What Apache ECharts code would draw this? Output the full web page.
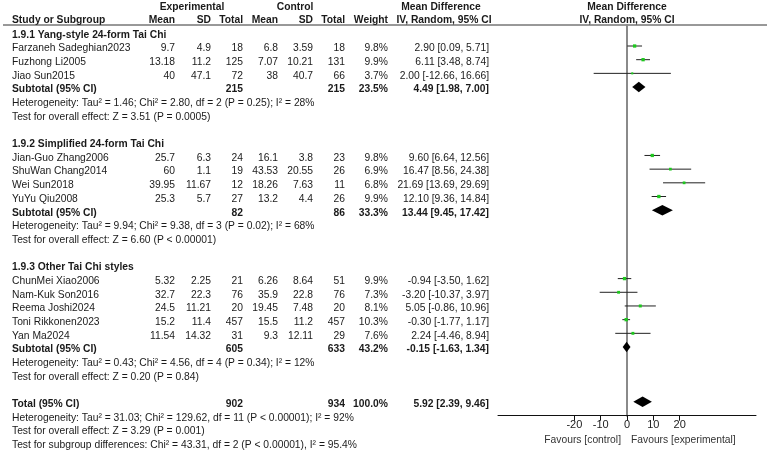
<!DOCTYPE html>
<html>
<head>
<meta charset="utf-8">
<script src="https://cdn.jsdelivr.net/npm/echarts@6/dist/echarts.min.js"></script>
<style>
  html, body { margin: 0; background: #fff; }
  #main { width: 767px; height: 453px; }
</style>
</head>
<body>
<div id="main"></div>
<script>
// ---- data ----
var groupNames = ['1.9.1 Yang-style 24-form Tai Chi', '1.9.2 Simplified 24-form Tai Chi', '1.9.3 Other Tai Chi styles'];
var studyNames = ['Farzaneh Sadeghian2023', 'Fuzhong Li2005', 'Jiao Sun2015',
  'Jian-Guo Zhang2006', 'ShuWan Chang2014', 'Wei Sun2018', 'YuYu Qiu2008',
  'ChunMei Xiao2006', 'Nam-Kuk Son2016', 'Reema Joshi2024', 'Toni Rikkonen2023', 'Yan Ma2024'];
var studyGroup = [0, 0, 0, 1, 1, 1, 1, 2, 2, 2, 2, 2];
var expMean = [9.7, 13.18, 40, 25.7, 60, 39.95, 25.3, 5.32, 32.7, 24.5, 15.2, 11.54];
var expSD = [4.9, 11.2, 47.1, 6.3, 1.1, 11.67, 5.7, 2.25, 22.3, 11.21, 11.4, 14.32];
var expN = [18, 125, 72, 24, 19, 12, 27, 21, 76, 20, 457, 31];
var ctlMean = [6.8, 7.07, 38, 16.1, 43.53, 18.26, 13.2, 6.26, 35.9, 19.45, 15.5, 9.3];
var ctlSD = [3.59, 10.21, 40.7, 3.8, 20.55, 7.63, 4.4, 8.64, 22.8, 7.48, 11.2, 12.11];
var ctlN = [18, 131, 66, 23, 26, 11, 26, 51, 76, 20, 457, 29];
var weight = [9.8, 9.9, 3.7, 9.8, 6.9, 6.8, 9.9, 9.9, 7.3, 8.1, 10.3, 7.6];
var md = [2.90, 6.11, 2.00, 9.60, 16.47, 21.69, 12.10, -0.94, -3.20, 5.05, -0.30, 2.24];
var mdLow = [0.09, 3.48, -12.66, 6.64, 8.56, 13.69, 9.36, -3.50, -10.37, -0.86, -1.77, -4.46];
var mdHigh = [5.71, 8.74, 16.66, 12.56, 24.38, 29.69, 14.84, 1.62, 3.97, 10.96, 1.17, 8.94];

var subExpN = [215, 82, 605];
var subCtlN = [215, 86, 633];
var subWeight = [23.5, 33.3, 43.2];
var subMd = [4.49, 13.44, -0.15];
var subLow = [1.98, 9.45, -1.63];
var subHigh = [7.00, 17.42, 1.34];
var subHet = [
  'Heterogeneity: Tau\u00b2 = 1.46; Chi\u00b2 = 2.80, df = 2 (P = 0.25); I\u00b2 = 28%',
  'Heterogeneity: Tau\u00b2 = 9.94; Chi\u00b2 = 9.38, df = 3 (P = 0.02); I\u00b2 = 68%',
  'Heterogeneity: Tau\u00b2 = 0.43; Chi\u00b2 = 4.56, df = 4 (P = 0.34); I\u00b2 = 12%'
];
var subTest = [
  'Test for overall effect: Z = 3.51 (P = 0.0005)',
  'Test for overall effect: Z = 6.60 (P < 0.00001)',
  'Test for overall effect: Z = 0.20 (P = 0.84)'
];

var totalExpN = 902, totalCtlN = 934, totalWeight = 100.0;
var totalMd = 5.92, totalLow = 2.39, totalHigh = 9.46;
var totalHet = 'Heterogeneity: Tau\u00b2 = 31.03; Chi\u00b2 = 129.62, df = 11 (P < 0.00001); I\u00b2 = 92%';
var totalTest = 'Test for overall effect: Z = 3.29 (P = 0.001)';
var subgroupTest = 'Test for subgroup differences: Chi\u00b2 = 43.31, df = 2 (P < 0.00001), I\u00b2 = 95.4%';

var xTicks = [-20, -10, 0, 10, 20];

// ---- build rows ----
var FONT = 'Arial, "Liberation Sans", sans-serif';
var FS = '10.3px ';
var rows = [];      // text rows
var studyPts = [];  // [md, lo, hi, row, weight]
var diamonds = [];  // [md, lo, hi, row]
var r = 0;
function ci(m, lo, hi) {
  return m.toFixed(2) + ' [' + lo.toFixed(2) + ', ' + hi.toFixed(2) + ']';
}
for (var g = 0; g < groupNames.length; g++) {
  rows.push({ r: r, bold: true, name: groupNames[g] });
  r++;
  for (var i = 0; i < studyNames.length; i++) {
    if (studyGroup[i] !== g) continue;
    rows.push({ r: r, name: studyNames[i], eMean: expMean[i], eSD: expSD[i], eN: expN[i],
      cMean: ctlMean[i], cSD: ctlSD[i], cN: ctlN[i], w: weight[i].toFixed(1) + '%',
      ci: ci(md[i], mdLow[i], mdHigh[i]) });
    studyPts.push([md[i], mdLow[i], mdHigh[i], r, weight[i]]);
    r++;
  }
  rows.push({ r: r, bold: true, name: 'Subtotal (95% CI)', eN: subExpN[g], cN: subCtlN[g],
    w: subWeight[g].toFixed(1) + '%', ci: ci(subMd[g], subLow[g], subHigh[g]) });
  diamonds.push([subMd[g], subLow[g], subHigh[g], r]);
  r++;
  rows.push({ r: r, name: subHet[g] }); r++;
  rows.push({ r: r, name: subTest[g] }); r++;
  r++;
}
rows.push({ r: r, bold: true, name: 'Total (95% CI)', eN: totalExpN, cN: totalCtlN,
  w: totalWeight.toFixed(1) + '%', ci: ci(totalMd, totalLow, totalHigh) });
diamonds.push([totalMd, totalLow, totalHigh, r]);
r++;
rows.push({ r: r, name: totalHet }); r++;
rows.push({ r: r, name: totalTest }); r++;
rows.push({ r: r, name: subgroupTest });

var myChart = echarts.init(document.getElementById('main'));

var option = {
  backgroundColor: '#fff',
  animation: false,
  grid: { left: 498, right: 11, top: 25, bottom: 37.3 },
  xAxis: {
    type: 'value', min: -49, max: 49,
    axisLine: { onZero: false, lineStyle: { color: '#111', width: 1 } },
    axisTick: { customValues: xTicks, length: 5, lineStyle: { color: '#111' } },
    axisLabel: { customValues: xTicks, color: '#222', fontSize: 11, fontFamily: FONT, margin: 4 },
    splitLine: { show: false }
  },
  yAxis: {
    type: 'value', inverse: true, min: -0.535, max: 28.02,
    axisLine: { show: true, onZero: true, lineStyle: { color: '#8a8a8a', width: 2 } },
    axisTick: { show: false }, axisLabel: { show: false }, splitLine: { show: false }
  },
  series: [
    {
      type: 'custom',
      data: studyPts,
      z: 5,
      renderItem: function (params, api) {
        var y = api.value(3);
        var p0 = api.coord([api.value(1), y]);
        var p1 = api.coord([api.value(2), y]);
        var c = api.coord([api.value(0), y]);
        var s = 1.05 * Math.sqrt(api.value(4));
        return {
          type: 'group',
          children: [
            { type: 'line', shape: { x1: p0[0], y1: p0[1], x2: p1[0], y2: p1[1] },
              style: { stroke: '#222', lineWidth: 1 } },
            { type: 'rect', shape: { x: c[0] - s / 2, y: c[1] - s / 2, width: s, height: s },
              style: { fill: '#1ec81e' } }
          ]
        };
      }
    },
    {
      type: 'custom',
      data: diamonds,
      z: 5,
      renderItem: function (params, api) {
        var y = api.value(3);
        var l = api.coord([api.value(1), y]);
        var h = api.coord([api.value(2), y]);
        var c = api.coord([api.value(0), y]);
        return {
          type: 'polygon',
          shape: { points: [[l[0], c[1]], [c[0], c[1] - 5.3], [h[0], c[1]], [c[0], c[1] + 5.3]] },
          style: { fill: '#000' }
        };
      }
    }
  ]
};
myChart.setOption(option);

// ---- table text ----
var colX = { name: 12, eMean: 175, eSD: 211, eN: 243, cMean: 278, cSD: 313, cN: 345, w: 388, ci: 489 };
function txt(x, y, s, align, bold, color) {
  return {
    type: 'text', x: x, y: y, silent: true,
    style: {
      text: String(s), fill: color || '#1a1a1a',
      font: (bold ? 'bold ' : '') + FS + FONT,
      textAlign: align, align: align, textVerticalAlign: 'middle', verticalAlign: 'middle'
    }
  };
}
var els = [];
// header
els.push(txt(192, 7, 'Experimental', 'center', true));
els.push(txt(295, 7, 'Control', 'center', true));
els.push(txt(441, 7, 'Mean Difference', 'center', true));
els.push(txt(627, 7, 'Mean Difference', 'center', true));
els.push(txt(colX.name, 20.5, 'Study or Subgroup', 'left', true));
els.push(txt(colX.eMean, 20.5, 'Mean', 'right', true));
els.push(txt(colX.eSD, 20.5, 'SD', 'right', true));
els.push(txt(colX.eN, 20.5, 'Total', 'right', true));
els.push(txt(colX.cMean, 20.5, 'Mean', 'right', true));
els.push(txt(colX.cSD, 20.5, 'SD', 'right', true));
els.push(txt(colX.cN, 20.5, 'Total', 'right', true));
els.push(txt(colX.w, 20.5, 'Weight', 'right', true));
els.push(txt(444, 20.5, 'IV, Random, 95% CI', 'center', true));
els.push(txt(627, 20.5, 'IV, Random, 95% CI', 'center', true));
els.push({ type: 'line', silent: true, shape: { x1: 3, y1: 25, x2: 767, y2: 25 },
  style: { stroke: '#333', lineWidth: 1 } });

rows.forEach(function (row) {
  var y = myChart.convertToPixel({ gridIndex: 0 }, [0, row.r])[1] + 2.5;
  els.push(txt(colX.name, y, row.name, 'left', row.bold));
  ['eMean', 'eSD', 'eN', 'cMean', 'cSD', 'cN', 'w', 'ci'].forEach(function (k) {
    if (row[k] !== undefined) els.push(txt(colX[k], y, row[k], 'right', row.bold));
  });
});

els.push(txt(621, 440, 'Favours [control]', 'right', false, '#333'));
els.push(txt(631, 440, 'Favours [experimental]', 'left', false, '#333'));

myChart.setOption({ graphic: { elements: els } });
window.onresize = myChart.resize;
</script>
</body>
</html>
